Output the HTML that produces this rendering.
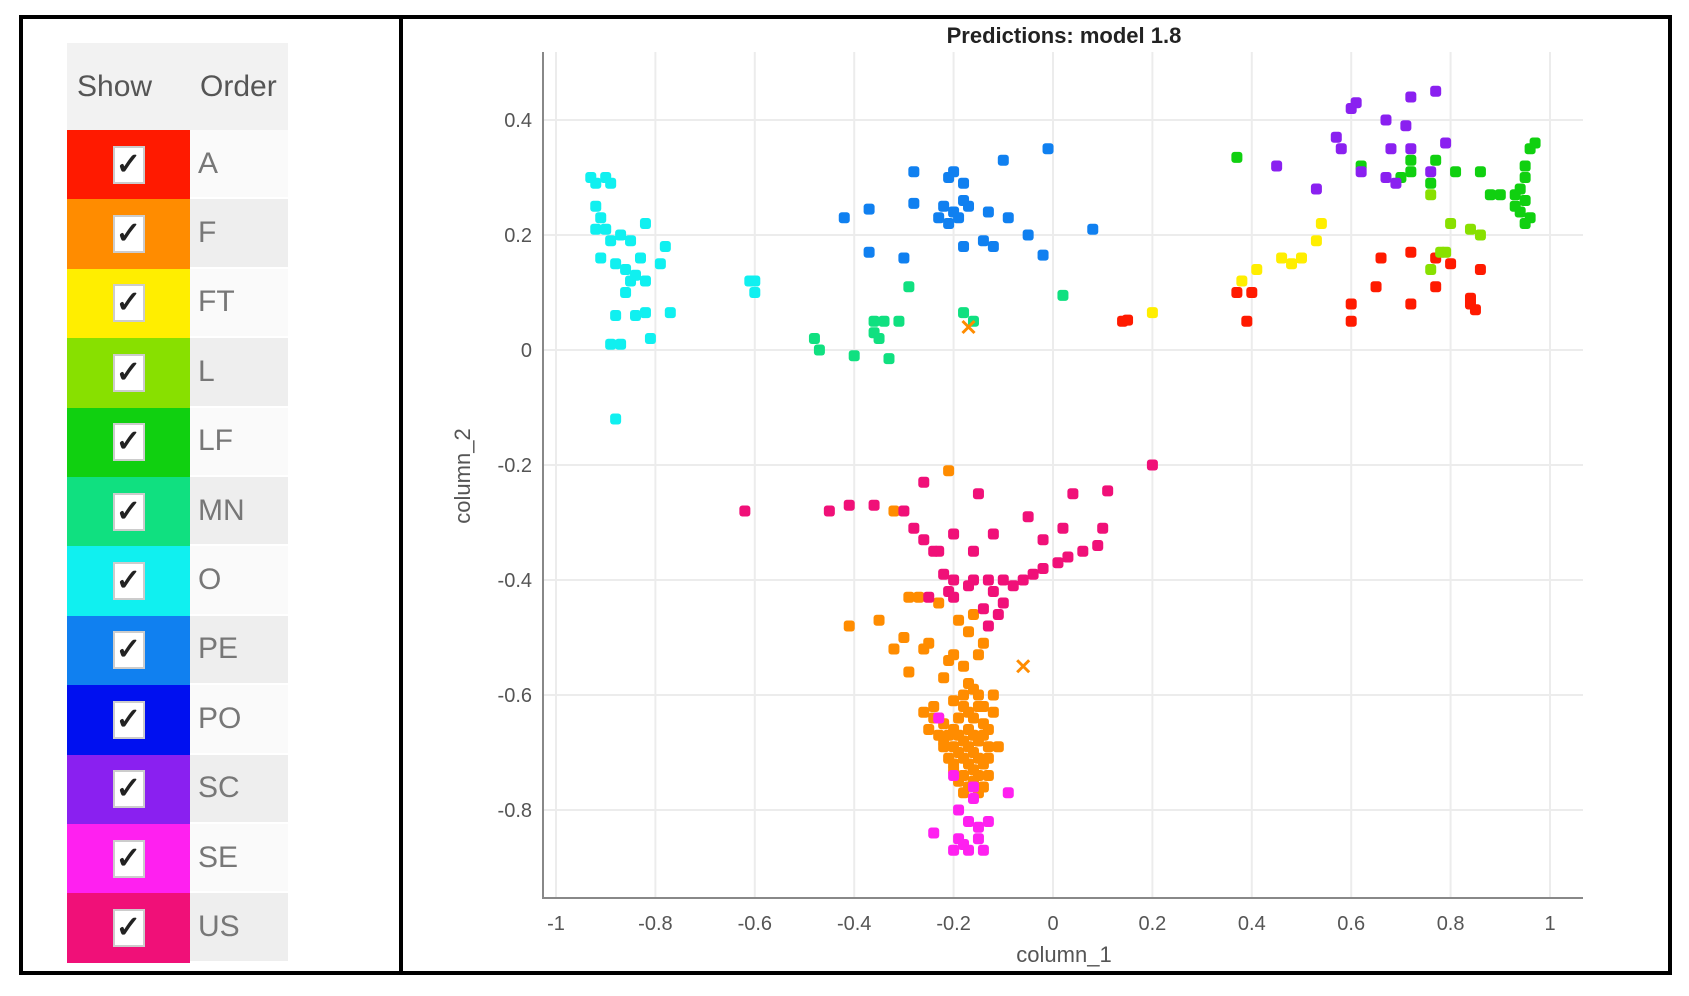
<!DOCTYPE html>
<html><head><meta charset="utf-8"><style>
body{margin:0;background:#fff;width:1689px;height:996px;overflow:hidden;font-family:"Liberation Sans",sans-serif}
#frame{position:absolute;left:19px;top:15px;width:1653px;height:960px;border:4px solid #000;box-sizing:border-box}
#divider{position:absolute;left:399px;top:15px;width:4px;height:960px;background:#000}
#legend{position:absolute;left:67px;top:43px;width:221px}
.row{height:69.4px;display:flex}
.hdr{height:87px;display:flex;background:#f2f2f2;color:#555;font-size:30px}
.hdr div{display:flex;align-items:center;padding-left:10px}
.sw{width:123px;display:flex;align-items:center;justify-content:center}
.cb{width:28px;height:34px;background:#fff;border:2px solid #ccc;font-size:30px;line-height:34px;text-align:center;color:#222;font-weight:bold}
.lab{flex:1;display:flex;align-items:center;padding-left:8px;font-size:30px;color:#777;border-bottom:2px solid #fff}
</style></head><body>
<div id="frame"></div>
<div id="divider"></div>
<div id="legend"></div>
<svg id="chart" width="1689" height="996" style="position:absolute;left:0;top:0"></svg>
<script>
const classNames=["A","F","FT","L","LF","MN","O","PE","PO","SC","SE","US"];
const classColors=["#ff1a00","#ff8c00","#ffee00","#88e000","#10d010","#10e080","#10f0f0","#1080f0","#0010f0","#8a20f0","#ff20f0","#f01078"];
const lg=document.getElementById('legend');
const h=document.createElement('div');h.className='hdr';


h.innerHTML='<div style="width:113px">Show</div><div>Order</div>';lg.appendChild(h);
classNames.forEach((n,i)=>{const r=document.createElement('div');r.className='row';


r.innerHTML='<div class="sw" style="background:'+classColors[i]+'"><div class="cb">✓</div></div><div class="lab" style="background:'+(i%2?'#eeeeee':'#fafafa')+'">'+n+'</div>';
const cb=r.querySelector('.cb');


lg.appendChild(r);});

const xTicks=[-1,-0.8,-0.6,-0.4,-0.2,0,0.2,0.4,0.6,0.8,1];
const xTickLabels=["-1","-0.8","-0.6","-0.4","-0.2","0","0.2","0.4","0.6","0.8","1"];
const yTicks=[-0.8,-0.6,-0.4,-0.2,0,0.2,0.4];
const yTickLabels=["-0.8","-0.6","-0.4","-0.2","0","0.2","0.4"];
const ptsA=[[0.14,0.05],[0.15,0.052],[0.37,0.1],[0.4,0.1],[0.39,0.05],[0.6,0.08],[0.6,0.05],[0.65,0.11],[0.66,0.16],[0.72,0.17],[0.72,0.08],[0.77,0.11],[0.77,0.16],[0.8,0.15],[0.84,0.08],[0.85,0.07],[0.86,0.14],[0.84,0.09]];
const ptsF=[[-0.21,-0.21],[-0.32,-0.28],[-0.29,-0.43],[-0.27,-0.43],[-0.23,-0.44],[-0.35,-0.47],[-0.41,-0.48],[-0.3,-0.5],[-0.32,-0.52],[-0.26,-0.52],[-0.25,-0.51],[-0.19,-0.47],[-0.16,-0.46],[-0.17,-0.49],[-0.14,-0.51],[-0.2,-0.53],[-0.21,-0.54],[-0.18,-0.55],[-0.15,-0.53],[-0.29,-0.56],[-0.22,-0.57],[-0.17,-0.58],[-0.15,-0.6],[-0.18,-0.6],[-0.2,-0.61],[-0.24,-0.62],[-0.26,-0.63],[-0.23,-0.64],[-0.14,-0.62],[-0.12,-0.63],[-0.19,-0.64],[-0.16,-0.64],[-0.13,-0.66],[-0.17,-0.66],[-0.2,-0.66],[-0.25,-0.66],[-0.22,-0.68],[-0.18,-0.68],[-0.15,-0.68],[-0.13,-0.69],[-0.16,-0.7],[-0.19,-0.7],[-0.21,-0.71],[-0.17,-0.72],[-0.14,-0.72],[-0.11,-0.69],[-0.2,-0.73],[-0.18,-0.74],[-0.15,-0.74],[-0.13,-0.74],[-0.17,-0.76],[-0.14,-0.76],[-0.22,-0.69],[-0.12,-0.6],[-0.16,-0.59],[-0.18,-0.62],[-0.15,-0.62],[-0.17,-0.63],[-0.14,-0.65],[-0.16,-0.67],[-0.19,-0.67],[-0.22,-0.65],[-0.24,-0.64],[-0.18,-0.71],[-0.15,-0.71],[-0.2,-0.72],[-0.16,-0.73],[-0.19,-0.75],[-0.16,-0.75],[-0.21,-0.67],[-0.23,-0.67],[-0.13,-0.71],[-0.14,-0.67],[-0.2,-0.69],[-0.17,-0.69],[-0.15,-0.77],[-0.18,-0.77]];
const crossF=[[-0.17,0.04],[-0.06,-0.55]];
const ptsFT=[[0.2,0.065],[0.38,0.12],[0.41,0.14],[0.46,0.16],[0.48,0.15],[0.5,0.16],[0.53,0.19],[0.54,0.22]];
const ptsL=[[0.76,0.14],[0.78,0.17],[0.79,0.17],[0.8,0.22],[0.76,0.27],[0.84,0.21],[0.86,0.2]];
const ptsLF=[[0.37,0.335],[0.62,0.32],[0.7,0.3],[0.72,0.33],[0.72,0.31],[0.76,0.29],[0.77,0.33],[0.81,0.31],[0.86,0.31],[0.88,0.27],[0.9,0.27],[0.93,0.25],[0.94,0.28],[0.95,0.3],[0.95,0.32],[0.96,0.35],[0.94,0.24],[0.95,0.22],[0.96,0.23],[0.93,0.27],[0.95,0.26],[0.97,0.36]];
const ptsMN=[[-0.48,0.02],[-0.47,0.0],[-0.4,-0.01],[-0.36,0.05],[-0.35,0.02],[-0.33,-0.015],[-0.31,0.05],[-0.29,0.11],[-0.18,0.065],[-0.16,0.05],[0.02,0.095],[-0.34,0.05],[-0.36,0.03]];
const ptsO=[[-0.93,0.3],[-0.92,0.29],[-0.9,0.3],[-0.89,0.29],[-0.92,0.25],[-0.91,0.23],[-0.9,0.21],[-0.92,0.21],[-0.89,0.19],[-0.87,0.2],[-0.85,0.19],[-0.82,0.22],[-0.91,0.16],[-0.88,0.15],[-0.86,0.14],[-0.84,0.13],[-0.82,0.12],[-0.85,0.12],[-0.83,0.16],[-0.78,0.18],[-0.79,0.15],[-0.86,0.1],[-0.88,0.06],[-0.84,0.06],[-0.82,0.065],[-0.77,0.065],[-0.89,0.01],[-0.87,0.01],[-0.81,0.02],[-0.88,-0.12],[-0.61,0.12],[-0.6,0.1],[-0.6,0.12]];
const ptsPE=[[-0.2,0.24],[-0.22,0.25],[-0.18,0.26],[-0.19,0.23],[-0.21,0.22],[-0.17,0.25],[-0.23,0.23],[-0.2,0.31],[-0.21,0.3],[-0.18,0.29],[-0.28,0.31],[-0.42,0.23],[-0.37,0.245],[-0.28,0.255],[-0.1,0.33],[-0.01,0.35],[-0.37,0.17],[-0.3,0.16],[-0.18,0.18],[-0.14,0.19],[-0.12,0.18],[-0.05,0.2],[0.08,0.21],[-0.02,0.165],[-0.09,0.23],[-0.13,0.24]];
const ptsSC=[[0.6,0.42],[0.61,0.43],[0.67,0.4],[0.72,0.44],[0.77,0.45],[0.71,0.39],[0.57,0.37],[0.58,0.35],[0.68,0.35],[0.72,0.35],[0.79,0.36],[0.62,0.31],[0.67,0.3],[0.69,0.29],[0.76,0.31],[0.45,0.32],[0.53,0.28]];
const ptsSE=[[-0.24,-0.84],[-0.19,-0.8],[-0.17,-0.82],[-0.15,-0.83],[-0.19,-0.85],[-0.17,-0.87],[-0.14,-0.87],[-0.2,-0.87],[-0.16,-0.78],[-0.13,-0.82],[-0.16,-0.76],[-0.2,-0.74],[-0.09,-0.77],[-0.23,-0.64],[-0.18,-0.86],[-0.15,-0.85]];
const ptsUS=[[0.2,-0.2],[0.11,-0.245],[0.04,-0.25],[-0.26,-0.23],[-0.15,-0.25],[-0.62,-0.28],[-0.45,-0.28],[-0.41,-0.27],[-0.36,-0.27],[-0.3,-0.28],[-0.28,-0.31],[-0.26,-0.33],[-0.2,-0.32],[-0.12,-0.32],[-0.05,-0.29],[-0.02,-0.33],[0.02,-0.31],[0.1,-0.31],[-0.24,-0.35],[-0.23,-0.35],[-0.16,-0.35],[0.09,-0.34],[0.06,-0.35],[0.03,-0.36],[0.01,-0.37],[-0.02,-0.38],[-0.04,-0.39],[-0.06,-0.4],[-0.08,-0.41],[-0.1,-0.4],[-0.13,-0.4],[-0.16,-0.4],[-0.2,-0.4],[-0.22,-0.39],[-0.21,-0.42],[-0.17,-0.41],[-0.12,-0.42],[-0.25,-0.43],[-0.2,-0.43],[-0.14,-0.45],[-0.1,-0.44],[-0.11,-0.46],[-0.13,-0.48]];
const series=[["A",ptsA],["F",ptsF],["FT",ptsFT],["L",ptsL],["LF",ptsLF],["MN",ptsMN],["O",ptsO],["PE",ptsPE],["SC",ptsSC],["SE",ptsSE],["US",ptsUS]];

const X=v=>1053+v*497, Y=v=>350-v*575;
const svg=document.getElementById('chart'),NS='http://www.w3.org/2000/svg';
function mk(t,a,txt){const e=document.createElementNS(NS,t);for(const k in a)e.setAttribute(k,a[k]);if(txt!==undefined)e.textContent=txt;svg.appendChild(e);return e;}
const L=543,R=1583,T=52,B=898;
xTicks.forEach((v,i)=>{const g=mk('line',{x1:X(v),x2:X(v),y1:T,y2:B,stroke:'#ececec','stroke-width':2});


const t=mk('text',{x:X(v),y:930,'text-anchor':'middle','font-size':20,fill:'#555'},xTickLabels[i]);

});
yTicks.forEach((v,i)=>{const g=mk('line',{x1:L,x2:R,y1:Y(v),y2:Y(v),stroke:'#ececec','stroke-width':2});


const t=mk('text',{x:532,y:Y(v)+7,'text-anchor':'end','font-size':20,fill:'#555'},yTickLabels[i]);

});
const ax=mk('path',{d:`M${L} ${T}V${B}H${R}`,stroke:'#888','stroke-width':2,fill:'none'});


series.forEach(([n,pts])=>{const c=classColors[classNames.indexOf(n)];
pts.forEach(p=>{const d=mk('rect',{x:X(p[0])-5.5,y:Y(p[1])-5.5,width:11,height:11,rx:3,fill:c});

});});
crossF.forEach(p=>{const d=mk('path',{d:`M${X(p[0])-6} ${Y(p[1])-6}l12 12M${X(p[0])+6} ${Y(p[1])-6}l-12 12`,stroke:'#ff8c00','stroke-width':3});

});
const ti=mk('text',{x:1064,y:43,'text-anchor':'middle','font-size':22,'font-weight':'bold',fill:'#222'},'Predictions: model 1.8');


const xl=mk('text',{x:1064,y:962,'text-anchor':'middle','font-size':22,fill:'#555'},'column_1');


const yl=mk('text',{x:470,y:476,'text-anchor':'middle','font-size':22,fill:'#555',transform:'rotate(-90 470 476)'},'column_2');


</script></body></html>
